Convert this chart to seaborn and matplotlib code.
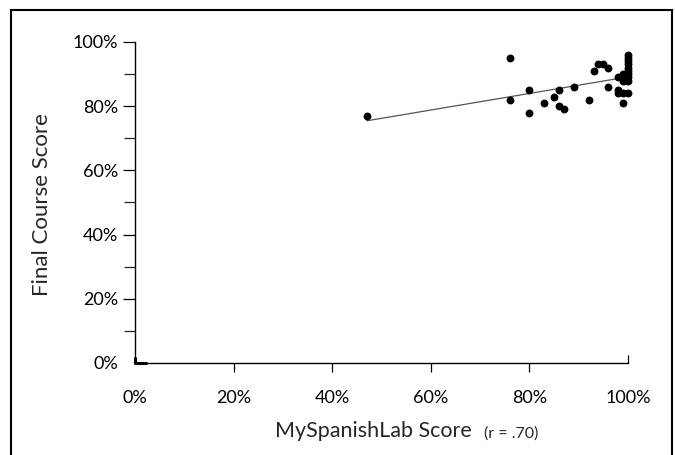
import numpy as np
import pandas as pd
import matplotlib
matplotlib.use('Agg')
import matplotlib.pyplot as plt
import matplotlib.lines as mlines
from matplotlib.path import Path
from matplotlib.patches import Rectangle
from matplotlib.ticker import PercentFormatter, MultipleLocator
import seaborn as sns

# MySpanishLab score vs final course score
lab_score = [0.47, 0.76, 0.76, 0.80, 0.80, 0.83, 0.85, 0.86, 0.86, 0.87,
             0.89, 0.92, 0.93, 0.94, 0.95, 0.96, 0.96, 0.98, 0.98, 0.98,
             0.99, 0.99, 0.99, 0.99, 1.00, 1.00, 1.00, 1.00, 1.00, 1.00,
             1.00, 1.00, 1.00, 1.00]
course_score = [0.77, 0.95, 0.82, 0.85, 0.78, 0.81, 0.83, 0.85, 0.80, 0.79,
                0.86, 0.82, 0.91, 0.93, 0.93, 0.92, 0.86, 0.89, 0.85, 0.84,
                0.90, 0.88, 0.84, 0.81, 0.96, 0.95, 0.94, 0.93, 0.92, 0.91,
                0.90, 0.89, 0.88, 0.84]
x_ticks = [0, 0.2, 0.4, 0.6, 0.8, 1.0]
y_ticks = [0, 0.2, 0.4, 0.6, 0.8, 1.0]

df = pd.DataFrame({'lab': lab_score, 'course': course_score})

sns.set_style('ticks')
plt.rcParams['font.family'] = ['Lato', 'DejaVu Sans']

fig = plt.figure(figsize=(6.75, 4.55), dpi=100)
ax = fig.add_axes([0.2, 0.2022, 0.7304, 0.7055])

sns.regplot(data=df, x='lab', y='course', ax=ax, ci=None, truncate=True,
            scatter_kws={'s': 32, 'color': 'black', 'linewidths': 0, 'alpha': 1,
                         'clip_on': False, 'zorder': 3},
            line_kws={'color': '#555555', 'lw': 0.9})

ax.set_xlim(0, 1.0)
ax.set_ylim(0, 1.0)
ax.set_xticks(x_ticks)
ax.set_yticks(y_ticks)
ax.yaxis.set_minor_locator(MultipleLocator(0.1))
ax.xaxis.set_major_formatter(PercentFormatter(1.0, decimals=0))
ax.yaxis.set_major_formatter(PercentFormatter(1.0, decimals=0))
ax.set_xlabel('')
ax.set_ylabel('')
sns.despine(ax=ax)
for s in ['left', 'bottom']:
    ax.spines[s].set_linewidth(1.0)
    ax.spines[s].set_color('black')

ax.tick_params(axis='x', which='major', direction='out', length=6.5, width=0.9,
               pad=13, labelsize=13, colors='black')
ax.tick_params(axis='y', which='major', direction='out', length=9, width=0.9,
               pad=3, labelsize=13, colors='black')
ax.tick_params(axis='y', which='minor', direction='out', length=8, width=0.9)

# end ticks: small L at origin, upward tick at 100%
xt = ax.xaxis.get_major_ticks()
xt[-1].tick1line.set_marker(mlines.TICKUP)
xt[-1].tick1line.set_markersize(6)
l_mark = Path([(0, 0.55), (0, 0), (1, 0)], [Path.MOVETO, Path.LINETO, Path.LINETO])
xt[0].tick1line.set_marker(l_mark)
xt[0].tick1line.set_markersize(17)
xt[0].tick1line.set_markeredgewidth(2.2)
xt[0].tick1line.set_fillstyle('none')
ax.yaxis.get_major_ticks()[0].tick1line.set_visible(False)

# axis titles
fig.text(0.0622, 0.55, 'Final Course Score', rotation=90, ha='center', va='center',
         fontsize=16)
xl = fig.text(0.407, 0.04, 'MySpanishLab Score', ha='left', va='baseline', fontsize=15.5)
ax.annotate('(r = .70)', xy=(1, 0), xycoords=xl, xytext=(9, 0),
            textcoords='offset points', ha='left', va='bottom', fontsize=11.5)

# outer frame
fig.patches.append(Rectangle((11 / 675, -0.02), 661 / 675, 1.02 - 10 / 455,
                             transform=fig.transFigure, fill=False,
                             edgecolor='black', linewidth=1.5))

fig.savefig('out.png', dpi=100)
